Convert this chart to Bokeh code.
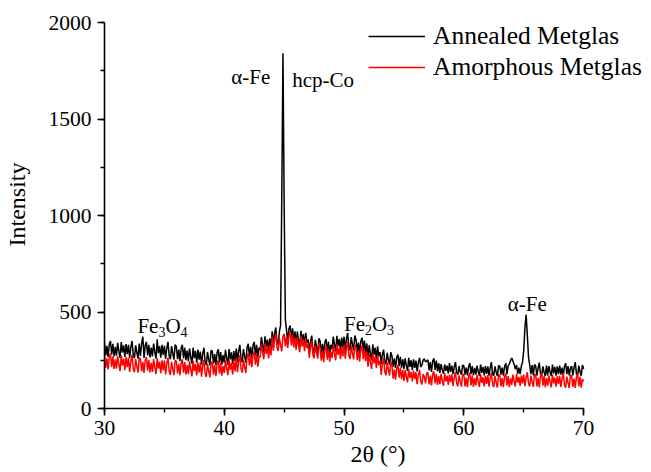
import numpy as np
from bokeh.plotting import figure
from bokeh.models import (Range1d, SingleIntervalTicker, Legend, LegendItem)
from bokeh.core.properties import value
from bokeh.embed import file_html
from bokeh.resources import INLINE

# ---------------- data ----------------
x_start, x_step = 30.0, 0.1
annealed = [
    340, 275, 325, 267, 333, 350, 280, 335, 270, 320,   # 30
    274, 340, 297, 262, 344, 290, 327, 267, 334, 282,   # 31
    330, 262, 318, 350, 278, 260, 328, 290, 258, 336,   # 32
    272, 338, 372, 262, 328, 345, 275, 330, 265, 315,   # 33
    270, 336, 293, 258, 358, 286, 323, 263, 330, 278,   # 34
    325, 257, 313, 345, 273, 255, 323, 285, 253, 331,   # 35
    320, 255, 305, 247, 313, 330, 260, 315, 250, 300,   # 36
    245, 311, 268, 233, 315, 261, 298, 238, 305, 253,   # 37
    295, 227, 283, 315, 243, 225, 293, 255, 223, 301,   # 38
    297, 232, 282, 224, 290, 307, 237, 292, 227, 277,   # 39
    238, 304, 261, 226, 308, 254, 291, 231, 298, 246,   # 40
    310, 242, 298, 330, 258, 240, 308, 270, 238, 316,   # 41
    335, 270, 320, 262, 328, 345, 275, 330, 265, 315,   # 42
    304, 370, 327, 292, 374, 320, 357, 297, 364, 312,   # 43
    400, 332, 388, 420, 348, 330, 398, 430, 1100, 1840, # 44
    1050, 460, 405, 347, 413, 430, 360, 415, 350, 400,  # 45
    332, 398, 355, 320, 402, 348, 385, 325, 392, 340,   # 46
    358, 290, 346, 378, 306, 288, 356, 318, 286, 364,   # 47
    350, 285, 335, 277, 343, 360, 290, 345, 280, 330,   # 48
    307, 373, 330, 295, 377, 323, 360, 300, 367, 315,   # 49
    372, 304, 360, 392, 320, 302, 370, 332, 300, 378,   # 50
    357, 292, 342, 284, 350, 367, 297, 352, 287, 337,   # 51
    262, 328, 285, 250, 332, 278, 315, 255, 322, 270,   # 52
    292, 230, 280, 305, 240, 228, 288, 252, 226, 292,   # 53
    272, 215, 260, 210, 266, 280, 220, 268, 212, 255,   # 54
    205, 260, 223, 195, 262, 216, 250, 198, 255, 210,   # 55
    248, 192, 238, 262, 215, 225, 250, 258, 242, 246,   # 56
    252, 198, 240, 190, 246, 260, 200, 248, 192, 235,   # 57
    185, 230, 200, 180, 228, 195, 222, 182, 235, 190,   # 58
    222, 178, 215, 240, 185, 176, 220, 190, 175, 225,   # 59
    222, 175, 212, 172, 218, 235, 178, 220, 172, 210,   # 60
    175, 222, 192, 170, 228, 185, 215, 172, 220, 180,   # 61
    218, 170, 210, 240, 178, 170, 218, 188, 168, 222,   # 62
    220, 175, 212, 170, 218, 235, 178, 222, 230, 248,   # 63
    262, 245, 228, 205, 225, 180, 212, 178, 220, 240,   # 64
    300, 420, 485, 380, 265, 225, 178, 225, 172, 228,   # 65
    220, 170, 210, 238, 178, 170, 218, 188, 168, 222,   # 66
    172, 220, 190, 168, 228, 182, 215, 170, 218, 178,   # 67
    222, 175, 212, 170, 218, 235, 178, 220, 172, 210,   # 68
    220, 172, 212, 240, 180, 172, 222, 190, 170, 225,   # 69
    205,                                                # 70
]
amorphous = [
    275, 210, 260, 202, 268, 285, 215, 270, 205, 255,   # 30
    206, 272, 229, 194, 276, 222, 259, 199, 266, 214,   # 31
    263, 190, 246, 278, 206, 188, 256, 218, 186, 264,   # 32
    257, 192, 242, 184, 250, 267, 197, 252, 187, 237,   # 33
    190, 256, 213, 178, 260, 206, 243, 183, 250, 198,   # 34
    249, 176, 232, 264, 192, 174, 242, 204, 172, 250,   # 35
    245, 180, 230, 172, 238, 255, 185, 240, 175, 225,   # 36
    178, 244, 201, 166, 248, 194, 231, 171, 238, 186,   # 37
    238, 165, 221, 253, 181, 163, 231, 193, 161, 239,   # 38
    240, 175, 225, 167, 233, 250, 180, 235, 170, 220,   # 39
    184, 250, 207, 172, 254, 200, 237, 177, 244, 192,   # 40
    261, 188, 244, 276, 204, 186, 254, 216, 184, 262,   # 41
    287, 222, 272, 214, 280, 297, 227, 282, 217, 267,   # 42
    267, 333, 290, 255, 337, 283, 320, 260, 327, 275,   # 43
    373, 300, 356, 388, 316, 298, 366, 328, 296, 374,   # 44
    387, 322, 372, 314, 380, 397, 327, 382, 317, 367,   # 45
    304, 370, 327, 292, 374, 320, 357, 297, 364, 312,   # 46
    335, 262, 318, 350, 278, 260, 328, 290, 258, 336,   # 47
    313, 248, 298, 240, 306, 323, 253, 308, 243, 293,   # 48
    262, 328, 285, 250, 332, 278, 315, 255, 322, 270,   # 49
    331, 258, 314, 346, 274, 256, 324, 286, 254, 332,   # 50
    315, 250, 300, 242, 308, 325, 255, 310, 245, 295,   # 51
    217, 283, 240, 205, 287, 233, 270, 210, 277, 225,   # 52
    247, 174, 230, 262, 190, 172, 240, 202, 170, 248,   # 53
    218, 155, 203, 150, 210, 225, 160, 212, 152, 200,   # 54
    143, 200, 163, 136, 204, 158, 190, 140, 196, 152,   # 55
    188, 126, 174, 200, 140, 124, 178, 165, 130, 185,   # 56
    185, 125, 170, 120, 178, 193, 130, 180, 122, 168,   # 57
    126, 180, 146, 118, 184, 140, 170, 122, 176, 136,   # 58
    177, 117, 162, 190, 130, 115, 172, 140, 113, 180,   # 59
    175, 115, 160, 110, 168, 185, 120, 170, 112, 158,   # 60
    120, 174, 139, 112, 178, 132, 162, 115, 170, 128,   # 61
    173, 113, 158, 186, 126, 111, 168, 136, 109, 176,   # 62
    173, 115, 158, 110, 166, 183, 118, 168, 110, 156,   # 63
    122, 176, 141, 114, 180, 134, 164, 117, 172, 130,   # 64
    176, 116, 162, 188, 128, 114, 170, 138, 112, 178,   # 65
    174, 114, 159, 109, 167, 184, 119, 169, 111, 157,   # 66
    118, 172, 137, 110, 176, 130, 160, 113, 168, 126,   # 67
    170, 110, 155, 183, 123, 108, 165, 133, 106, 173,   # 68
    170, 112, 155, 107, 163, 180, 115, 165, 108, 153,   # 69
    140,                                                # 70
]
series_names = ["Annealed Metglas", "Amorphous Metglas"]
x_axis_start, x_axis_end = 30, 70
y_axis_start, y_axis_end = 0, 2000
x_ticks_interval = 10
y_ticks_interval = 500

# peak labels (data coordinates of the text's left baseline)
peak_labels = ["α-Fe", "hcp-Co", "α-Fe"]
peak_label_x = [40.58, 45.67, 63.67]
peak_label_y = [1720, 1700, 539]
# oxide labels with subscripts
oxide_x = [32.75, 50.0]
oxide_y = [425, 440]
oxide_parts = [("Fe", "3", "O", "4"), ("Fe", "2", "O", "3")]

# ---------------- figure ----------------
FONT = "Liberation Serif"
W, H = 651, 472
FRAME_L, AXIS_TOP, FRAME_B = 103, 22, 408
PX_PER_X = 12.0
PX_PER_Y = (FRAME_B - AXIS_TOP) / (y_axis_end - y_axis_start)
x_end_view = x_axis_end + (W - (FRAME_L + (x_axis_end - x_axis_start) * PX_PER_X)) / PX_PER_X
y_end_view = y_axis_end + AXIS_TOP / PX_PER_Y

p = figure(width=W, height=H, output_backend="svg", toolbar_location=None,
           x_range=Range1d(x_axis_start, x_end_view), y_range=Range1d(y_axis_start, y_end_view),
           min_border_left=FRAME_L, min_border_right=0, min_border_top=0,
           min_border_bottom=H - FRAME_B)
p.outline_line_color = None
p.xgrid.visible = False
p.ygrid.visible = False

xs = x_start + x_step * np.arange(len(annealed))
rb = p.line(xs, annealed, line_color="black", line_width=1.5)
rr = p.line(xs, amorphous, line_color="#ff0000", line_width=1.5)

for ax in (p.xaxis[0], p.yaxis[0]):
    ax.axis_line_width = 1.6
    ax.axis_line_color = "black"
    ax.major_tick_line_width = 1.6
    ax.minor_tick_line_width = 1.4
    ax.major_tick_line_color = "black"
    ax.minor_tick_line_color = "black"
    ax.major_tick_out = 7
    ax.major_tick_in = 0
    ax.minor_tick_out = 4
    ax.minor_tick_in = 0
    ax.major_label_text_font = FONT
    ax.major_label_text_font_size = "21.5px"
    ax.major_label_text_color = "black"
    ax.axis_label_text_font = FONT
    ax.axis_label_text_font_size = "24px"
    ax.axis_label_text_font_style = "normal"
    ax.axis_label_text_color = "black"

p.xaxis.bounds = (x_axis_start, x_axis_end)
p.yaxis.bounds = (y_axis_start, y_axis_end)
p.xaxis.ticker = SingleIntervalTicker(interval=x_ticks_interval, num_minor_ticks=2)
p.yaxis.ticker = SingleIntervalTicker(interval=y_ticks_interval, num_minor_ticks=2)
p.xaxis.axis_label = "2θ (°)"
p.yaxis.axis_label = "Intensity"
p.xaxis.major_label_standoff = 5
p.yaxis.major_label_standoff = 6
p.xaxis.axis_label_standoff = 3
p.yaxis.axis_label_standoff = 16

# peak labels
p.text(x=peak_label_x, y=peak_label_y, text=peak_labels, text_font=value(FONT),
       text_font_size="21px", text_color="black", text_baseline="alphabetic", text_align="left")

# oxide labels with subscripts
big_x, big_y, big_t, big_off = [], [], [], []
sub_x, sub_y, sub_t, sub_off = [], [], [], []
for bx, by, parts in zip(oxide_x, oxide_y, oxide_parts):
    offs = [0, 21, 28, 43]
    for i, (part, off) in enumerate(zip(parts, offs)):
        if i % 2 == 0:
            big_x.append(bx); big_y.append(by); big_t.append(part); big_off.append(off)
        else:
            sub_x.append(bx); sub_y.append(by); sub_t.append(part); sub_off.append(off)
p.text(x=big_x, y=big_y, text=big_t, x_offset=big_off, text_font=value(FONT),
       text_font_size="21px", text_color="black", text_baseline="alphabetic", text_align="left")
p.text(x=sub_x, y=sub_y, text=sub_t, x_offset=sub_off, y_offset=6, text_font=value(FONT),
       text_font_size="14px", text_color="black", text_baseline="alphabetic", text_align="left")

legend = Legend(items=[LegendItem(label=series_names[0], renderers=[rb]),
                       LegendItem(label=series_names[1], renderers=[rr])],
                location=(264, 326))
legend.border_line_color = None
legend.background_fill_alpha = 0
legend.label_text_font = FONT
legend.label_text_font_size = "25.5px"
legend.label_text_color = "black"
legend.glyph_width = 57
legend.label_standoff = 8
legend.padding = 0
legend.margin = 0
legend.spacing = 1
p.add_layout(legend)

open("out.html", "w").write(file_html(p, INLINE))
